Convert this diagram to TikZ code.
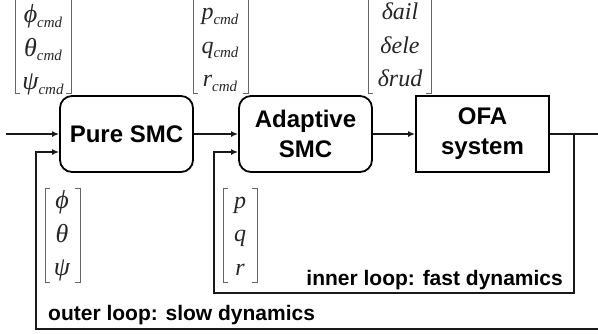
\documentclass[tikz,border=0pt]{standalone}
\usepackage{fontspec}
\setmainfont{Liberation Serif}
\newfontfamily\arialfont{Liberation Sans}
\usetikzlibrary{arrows.meta,calc}
\newcommand\brk[4]{%
  \draw[brkline] (#1+5,#3) -- (#1,#3) -- (#1,#4) -- (#1+5,#4);
  \draw[brkline] (#2-5,#3) -- (#2,#3) -- (#2,#4) -- (#2-5,#4);}
\newcommand\cmdsub{\raisebox{-4.5pt}{\fontsize{15}{15}\selectfont cmd}}
\newcommand\gk[1]{{\fontsize{26}{33}\selectfont #1}}
\begin{document}
\begin{tikzpicture}[x=1pt,y=-1pt,
  blk/.style={draw=black,line width=1.8pt,minimum width=133pt,minimum height=76pt,
     font=\arialfont\bfseries\fontsize{24}{30}\selectfont,align=center,inner sep=0pt},
  rblk/.style={blk,rounded corners=12pt},
  vec/.style={font=\itshape\fontsize{24}{33.5}\selectfont,align=center,inner sep=0pt,text=black!85},
  brkline/.style={draw=black!60,line width=0.9pt},
  conn/.style={draw=black!90,line width=1.5pt},
  arr/.style={conn,-{Latex[length=7pt,width=6pt]}},
  looplbl/.style={font=\arialfont\bfseries\fontsize{21}{24}\selectfont,inner sep=0pt}]
\useasboundingbox (0,0) rectangle (598,333);

% blocks
\node[rblk] (pure) at (126.5,134) {Pure SMC};
\node[rblk] (adapt) at (305.5,134) {Adaptive\\SMC};
\node[blk] (ofa) at (482.5,134) {OFA\\system};

% vectors
\node[vec] (m1) at (43,50) {\gk{ϕ}\cmdsub\\\gk{θ}\cmdsub\\\gk{ψ}\cmdsub};
\brk{15}{71}{-4}{93}
\node[vec] (m2) at (220,50) {p\cmdsub\\q\cmdsub\\r\cmdsub};
\brk{193}{248}{-4}{93}
\node[vec] (m3) at (400,45) {δail\\δele\\δrud};
\brk{368}{431}{-4}{93}
\node[vec] (m4) at (62,236) {\gk{ϕ}\\\gk{θ}\\\gk{ψ}};
\brk{45}{80}{188}{282}
\node[vec] (m5) at (240,236) {p\\q\\r};
\brk{223}{257}{188}{282}

% coordinates
\coordinate (in) at (6,134);
\coordinate (tap) at (574,134);
\coordinate (out) at (600,134);
\coordinate (ib) at (214,293);
\coordinate (ob) at (600,329);
\coordinate (ol) at (36,329);

% connectors
\draw[arr] (in) -- (pure.west);
\draw[arr] (pure.east) -- (adapt.west);
\draw[arr] (adapt.east) -- (ofa.west);
\draw[conn] (ofa.east) -- (out);
\draw[arr] (tap) |- (ib) |- ($(adapt.west)+(0,18)$);
\draw[arr] (ob) -- (ol) |- ($(pure.west)+(0,18)$);

% labels
\node[looplbl,anchor=base east] (il) at (563,285) {inner loop: fast dynamics};
\node[looplbl,anchor=base west] (oll) at (48,320) {outer loop: slow dynamics};
\end{tikzpicture}
\end{document}
